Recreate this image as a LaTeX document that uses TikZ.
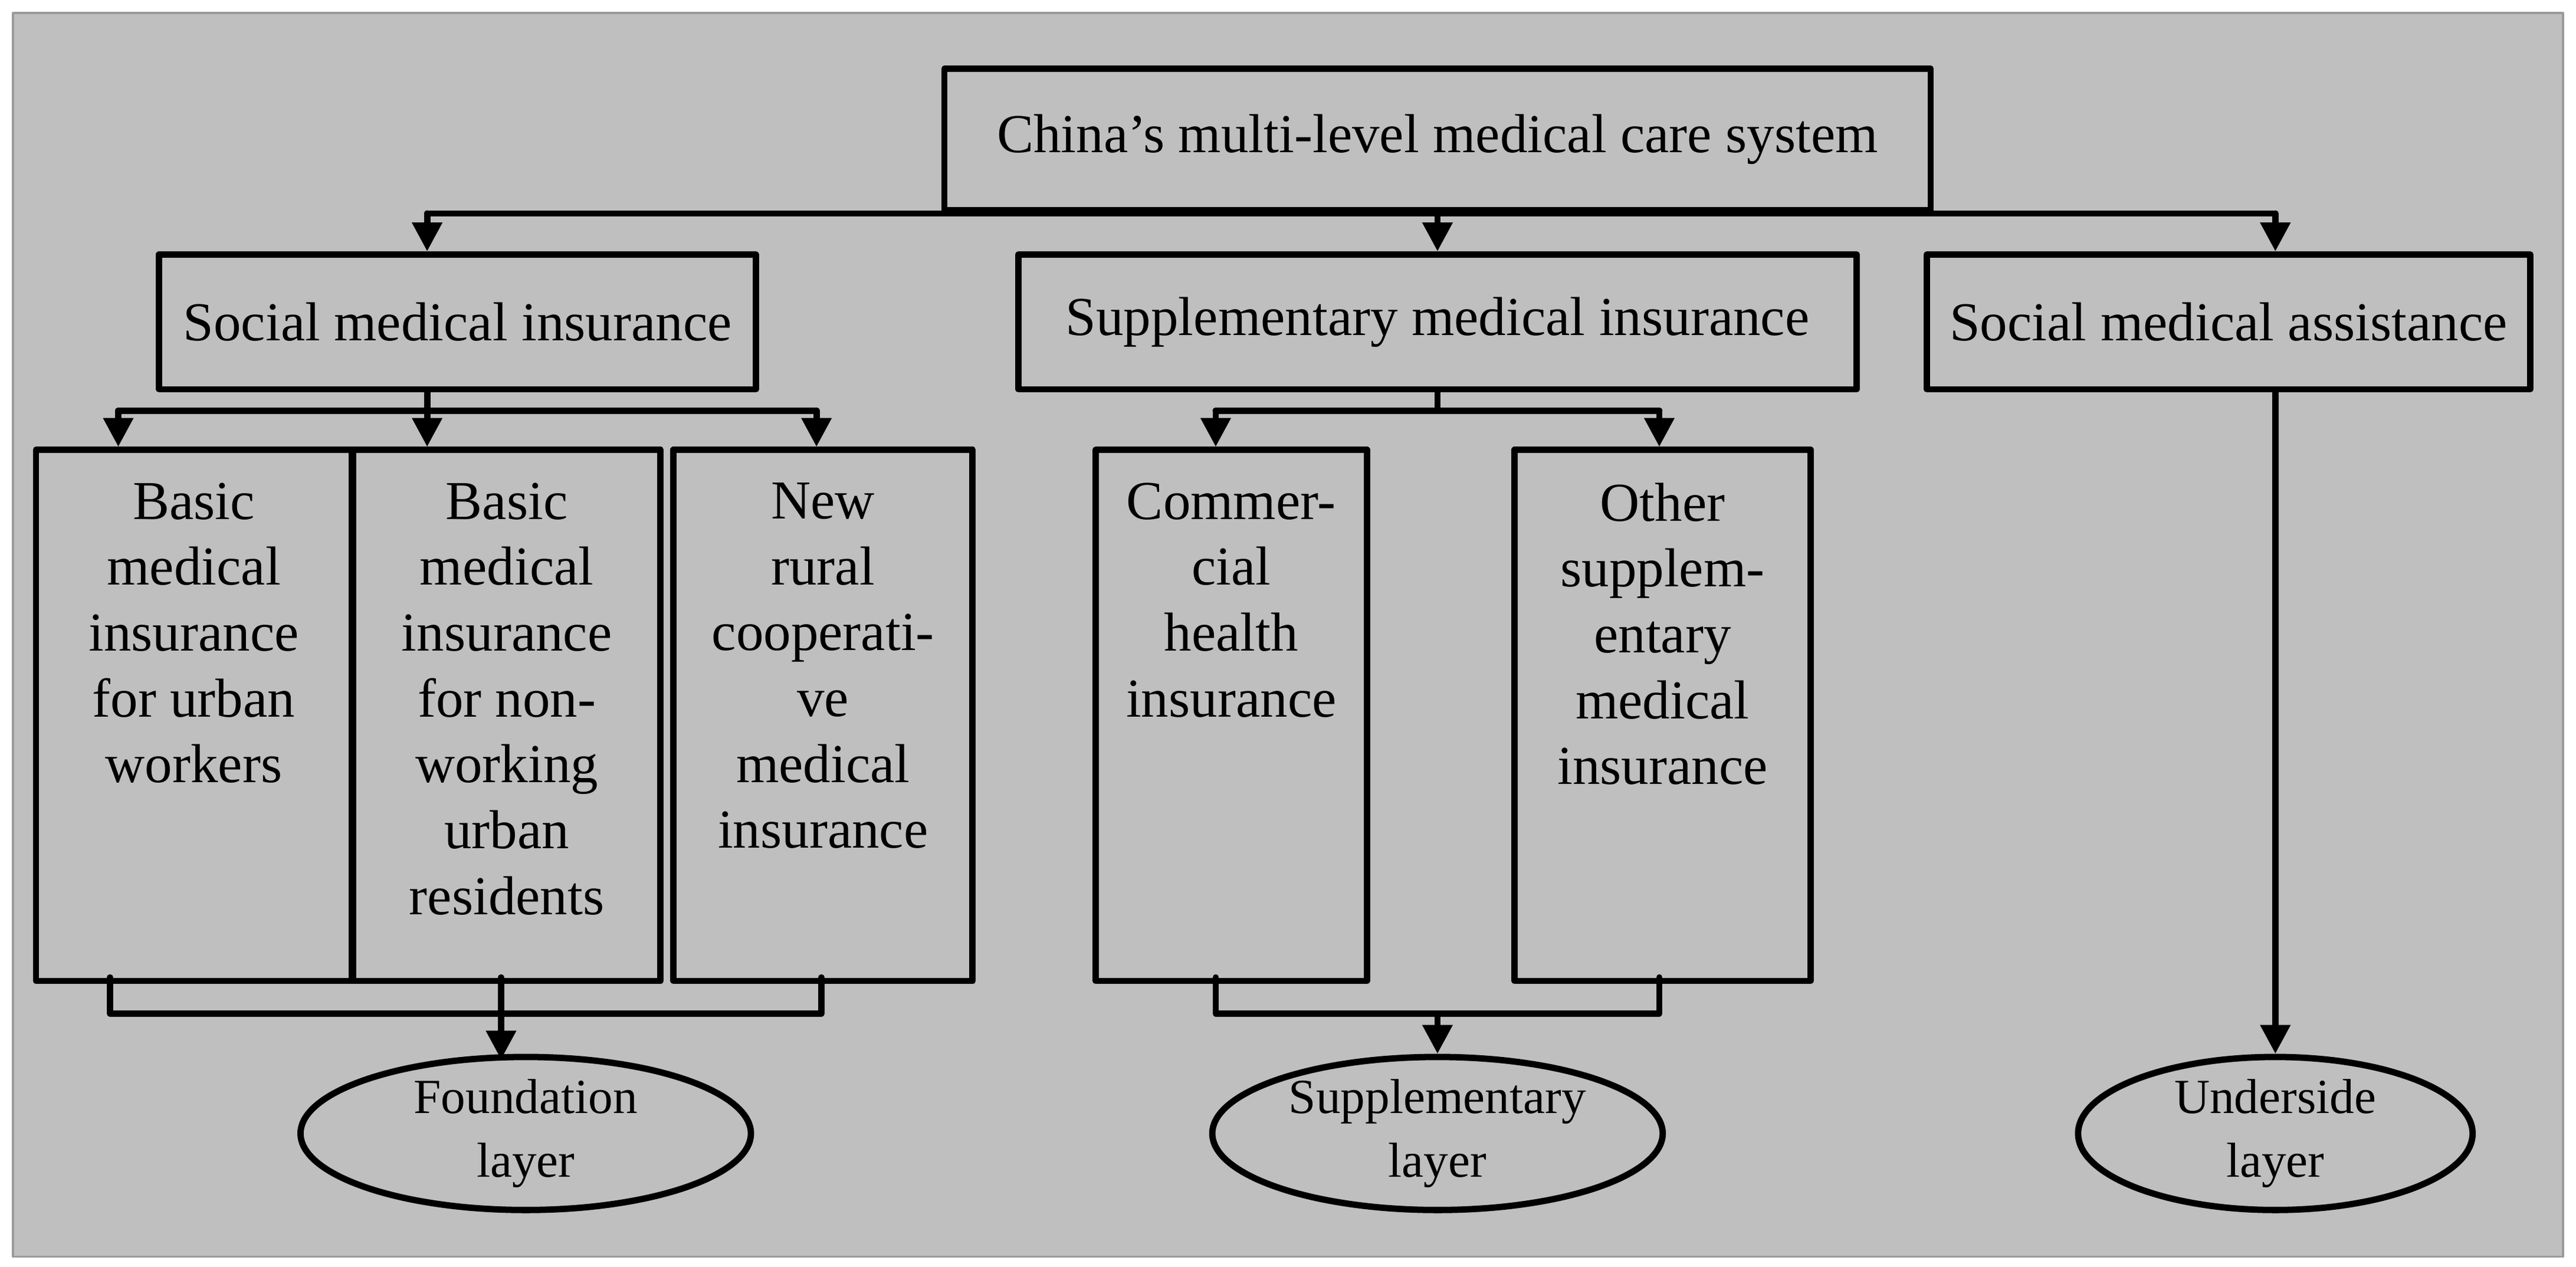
\documentclass[tikz,border=0pt]{standalone}
\usepackage{fontspec}
\setmainfont{Liberation Serif}
\usetikzlibrary{arrows.meta,shapes.geometric}
\begin{document}
\begin{tikzpicture}[x=0.01cm,y=-0.01cm,line cap=round,line join=round,>={Triangle[length=5pt,width=5pt]},
  box/.style={draw,line width=1.1pt,inner sep=0pt,align=center,font=\fontsize{9.5}{11.4}\selectfont},
  tall/.style={box,anchor=north west},
  layer/.style={draw,ellipse,line width=1.1pt,inner sep=0pt,align=center,font=\fontsize{8.5}{11}\selectfont},
  link/.style={line width=1.1pt}]
\newcommand{\tallbox}[2]{\parbox[c][3.23cm][t]{#1}{\centering\vspace{0.2cm}#2}}
% background
\useasboundingbox (0,0) rectangle (1568,771);
\fill[white] (0,0) rectangle (1568,771);
\draw[fill=black!25,draw=black!40] (8,8) rectangle (1560,765);
% top
\node[box,minimum width=6cm,minimum height=0.86cm] (sys) at (875,85) {China's multi-level medical care system};
\node[box,minimum width=3.63cm,minimum height=0.82cm] (social) at (278.5,196) {Social medical insurance};
\node[box,minimum width=5.1cm,minimum height=0.82cm] (suppl) at (875,196) {Supplementary medical insurance};
\node[box,minimum width=3.67cm,minimum height=0.82cm] (assist) at (1356.5,196) {Social medical assistance};
% tall boxes
\node[tall] (urban) at (20,272) {\tallbox{1.92cm}{Basic\\medical\\insurance\\for urban\\workers}};
\node[tall] (resid) at (213,272) {\tallbox{1.87cm}{Basic\\medical\\insurance\\for non-\\working\\urban\\residents}};
\node[tall] (rural) at (408,272) {\tallbox{1.82cm}{New\\rural\\cooperati-\\ve\\medical\\insurance}};
\node[tall] (comm) at (665,272) {\tallbox{1.65cm}{Commer-\\cial\\health\\insurance}};
\node[tall] (other) at (920,272) {\tallbox{1.80cm}{Other\\supplem-\\entary\\medical\\insurance}};
% layers
\node[layer,minimum width=2.74cm,minimum height=0.9cm] (found) at (320,690) {Foundation\\layer};
\node[layer,minimum width=2.74cm,minimum height=0.9cm] (supl) at (875,690) {Supplementary\\layer};
\node[layer,minimum width=2.4cm,minimum height=0.9cm] (under) at (1385,690) {Underside\\layer};
% connectors
\coordinate (t0) at (260,130);
\coordinate (t1) at (1385,130);
\draw[link] (t0) -- (t1);
\draw[link,->] (t0) -- (t0 |- social.north);
\draw[link,->] (sys.south) -- (suppl.north);
\draw[link,->] (t1) -- (t1 |- assist.north);
\coordinate (s0) at (72,250);
\coordinate (s1) at (497,250);
\draw[link] (social.south -| 260,0) -- (260,250);
\draw[link] (s0) -- (s1);
\draw[link,->] (s0) -- (s0 |- urban.north);
\draw[link,->] (260,250) -- (260,272);
\draw[link,->] (s1) -- (s1 |- rural.north);
\coordinate (p0) at (740,250);
\coordinate (p1) at (1010,250);
\draw[link] (suppl.south) -- (875,250);
\draw[link] (p0) -- (p1);
\draw[link,->] (p0) -- (p0 |- comm.north);
\draw[link,->] (p1) -- (p1 |- other.north);
\draw[link,->] (assist.south -| under.north) -- (under.north);
\coordinate (f0) at (67,617);
\coordinate (f1) at (500,617);
\draw[link] (67,595) -- (f0) -- (f1) -- (500,595);
\draw[link,->] (305,595) -- (305,645);
\coordinate (g0) at (740,617);
\coordinate (g1) at (1010,617);
\draw[link] (740,595) -- (g0) -- (g1) -- (1010,595);
\draw[link,->] (875,617) -- (supl.north);
\end{tikzpicture}
\end{document}
